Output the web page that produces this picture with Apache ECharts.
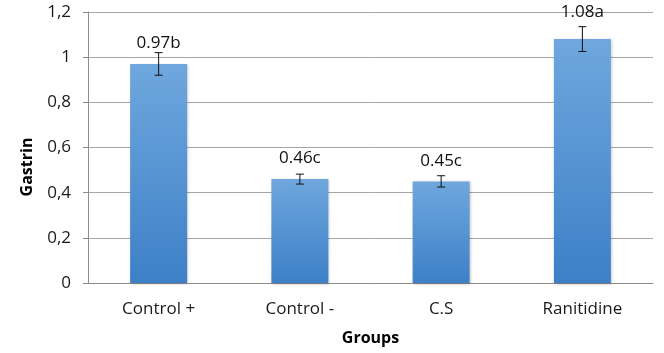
<!DOCTYPE html>
<html>
<head>
<meta charset="utf-8">
<style>
  html, body { margin: 0; padding: 0; background: #fff; }
  #chart { width: 664px; height: 353px; }
</style>
<script src="https://cdn.jsdelivr.net/npm/echarts@6/dist/echarts.min.js"></script>
</head>
<body>
<div id="chart"></div>
<script>
var groups = ['Control +', 'Control -', 'C.S', 'Ranitidine'];
var gastrin = [0.97, 0.46, 0.45, 1.08];
var errors = [0.05, 0.022, 0.025, 0.055];
var letters = ['0.97b', '0.46c', '0.45c', '1.08a'];

var font = '"Open Sans", "Noto Sans", sans-serif';
var chart = echarts.init(document.getElementById('chart'));

var errData = gastrin.map(function (v, i) {
  return [i, v - errors[i], v + errors[i]];
});

var option = {
  animation: false,
  grid: { left: 88, right: 11, top: 12, bottom: 70 },
  xAxis: {
    type: 'category',
    data: groups,
    name: 'Groups',
    nameLocation: 'middle',
    nameGap: 47,
    nameTextStyle: { fontFamily: font, fontSize: 16, fontWeight: 'bold', color: '#000' },
    axisLine: { lineStyle: { color: '#8c8c8c' } },
    axisTick: { length: 5, lineStyle: { color: '#8c8c8c' } },
    axisLabel: { fontFamily: font, fontSize: 17, color: '#1a1a1a', margin: 18 }
  },
  yAxis: {
    type: 'value',
    min: 0,
    max: 1.2,
    interval: 0.2,
    axisLine: { show: true, lineStyle: { color: '#8c8c8c' } },
    axisTick: { show: true, length: 5, lineStyle: { color: '#8c8c8c' } },
    splitLine: { lineStyle: { color: '#a6a6a6' } },
    axisLabel: {
      fontFamily: font, fontSize: 17, color: '#1a1a1a', margin: 17,
      formatter: function (v) {
        return String(Math.round(v * 10) / 10).replace('.', ',');
      }
    }
  },
  graphic: [{
    type: 'text',
    x: 27,
    y: 167,
    rotation: Math.PI / 2,
    style: {
      text: 'Gastrin',
      font: 'bold 16px ' + font,
      fill: '#000',
      align: 'center',
      verticalAlign: 'middle'
    }
  }],
  series: [{
    type: 'bar',
    barWidth: 57,
    data: gastrin.map(function (v, i) {
      return {
        value: v,
        label: { distance: i === 3 ? 18 : 12 }
      };
    }),
    itemStyle: {
      color: new echarts.graphic.LinearGradient(0, 0, 0, 1, [
        { offset: 0, color: '#6fa7de' },
        { offset: 1, color: '#3d80c7' }
      ]),
      shadowColor: 'rgba(0,0,0,0.25)',
      shadowBlur: 3,
      shadowOffsetX: 1,
      shadowOffsetY: 1
    },
    label: {
      show: true,
      position: 'top',
      fontFamily: font,
      fontSize: 17,
      color: '#111',
      formatter: function (p) { return letters[p.dataIndex]; }
    },
    z: 2
  }, {
    type: 'custom',
    data: errData,
    z: 5,
    renderItem: function (params, api) {
      var lo = api.coord([api.value(0), api.value(1)]);
      var hi = api.coord([api.value(0), api.value(2)]);
      var w = 4;
      var st = { stroke: '#111', lineWidth: 1 };
      return {
        type: 'group',
        children: [
          { type: 'line', shape: { x1: hi[0], y1: hi[1], x2: lo[0], y2: lo[1] }, style: st },
          { type: 'line', shape: { x1: hi[0] - w, y1: hi[1], x2: hi[0] + w, y2: hi[1] }, style: st },
          { type: 'line', shape: { x1: lo[0] - w, y1: lo[1], x2: lo[0] + w, y2: lo[1] }, style: st }
        ]
      };
    }
  }]
};

chart.setOption(option);
</script>
</body>
</html>
